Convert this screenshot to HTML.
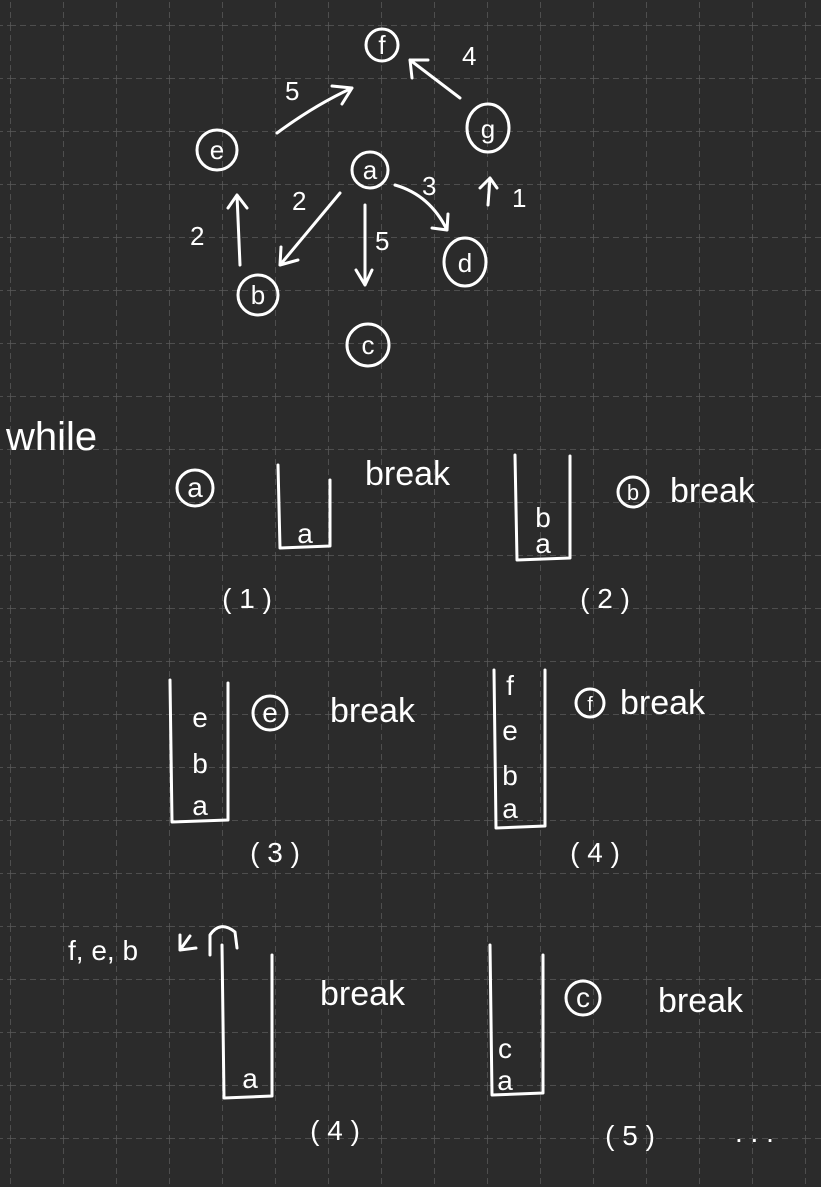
<!DOCTYPE html>
<html><head><meta charset="utf-8"><style>
html,body{margin:0;padding:0;background:#2b2b2b;}
svg{display:block}
text{fill:#fff;font-family:"Liberation Sans",sans-serif;font-weight:normal}
</style></head><body>
<svg width="821" height="1187" viewBox="0 0 821 1187">
<defs>
<pattern id="grid" x="10" y="25" width="53" height="53" patternUnits="userSpaceOnUse">
<path d="M0 0H53M0 0V53" stroke="#5a5a5a" stroke-width="1.5" stroke-dasharray="6 4" fill="none"/>
</pattern>
</defs>
<rect width="821" height="1187" fill="#2b2b2b"/>
<rect width="821" height="1187" fill="url(#grid)"/>
<g stroke="#fff" stroke-width="3" fill="none" stroke-linecap="round" stroke-linejoin="round">
 <g>
  <circle cx="382" cy="45" r="16"/>
  <circle cx="217" cy="150" r="20"/>
  <circle cx="370" cy="170" r="18"/>
  <ellipse cx="488" cy="128" rx="21" ry="24"/>
  <ellipse cx="465" cy="262" rx="21" ry="24"/>
  <circle cx="258" cy="295" r="20"/>
  <circle cx="368" cy="345" r="21"/>
  <path d="M277 133 Q315 105 352 88 M332 86 L352 88 L342 104"/>
  <path d="M460 98 L410 60 M412 78 L410 60 L428 60"/>
  <path d="M340 193 L280 265 M281 247 L280 265 L298 260"/>
  <path d="M240 265 L237 195 M228 208 L237 195 L247 208"/>
  <path d="M365 205 L365 285 M356 270 L365 285 L372 270"/>
  <path d="M395 185 Q430 195 447 230 M432 228 L447 230 L448 214"/>
  <path d="M488 205 L490 178 M480 188 L490 178 L497 188"/>
 </g>
 <g>
  <path d="M278 465 L280 548 L330 546 L330 480"/>
  <path d="M515 455 L517 560 L570 558 L570 456"/>
  <path d="M170 680 L172 822 L228 820 L228 683"/>
  <path d="M494 670 L496 828 L545 826 L545 670"/>
  <path d="M222 945 L224 1098 L272 1096 L272 955"/>
  <path d="M490 945 L492 1095 L543 1093 L543 955"/>
  <path d="M210 955 L210 935 Q220 920 235 932 L237 948"/>
  <path d="M180 950 L190 936 M180 935 L180 950 L196 948"/>
  <circle cx="195" cy="488" r="18"/>
  <circle cx="633" cy="492" r="15"/>
  <circle cx="270" cy="713" r="17"/>
  <circle cx="590" cy="703" r="14"/>
  <circle cx="583" cy="998" r="17"/>
 </g>
</g>
<g font-size="26">
 <text x="382" y="54" text-anchor="middle">f</text>
 <text x="217" y="159" text-anchor="middle">e</text>
 <text x="370" y="179" text-anchor="middle">a</text>
 <text x="488" y="138" text-anchor="middle">g</text>
 <text x="465" y="272" text-anchor="middle">d</text>
 <text x="258" y="304" text-anchor="middle">b</text>
 <text x="368" y="354" text-anchor="middle">c</text>
 <text x="462" y="65">4</text>
 <text x="285" y="100">5</text>
 <text x="292" y="210">2</text>
 <text x="190" y="245">2</text>
 <text x="375" y="250">5</text>
 <text x="422" y="195">3</text>
 <text x="512" y="207">1</text>
</g>
<g font-size="28">
 <text x="6" y="450" font-size="40">while</text>
 <text x="195" y="497" text-anchor="middle">a</text>
 <text x="305" y="543" text-anchor="middle">a</text>
 <text x="365" y="485" font-size="34">break</text>
 <text x="247" y="608" text-anchor="middle">( 1 )</text>
 <text x="543" y="527" text-anchor="middle">b</text>
 <text x="543" y="553" text-anchor="middle">a</text>
 <text x="633" y="500" text-anchor="middle" font-size="22">b</text>
 <text x="670" y="502" font-size="34">break</text>
 <text x="605" y="608" text-anchor="middle">( 2 )</text>
 <text x="200" y="727" text-anchor="middle">e</text>
 <text x="200" y="773" text-anchor="middle">b</text>
 <text x="200" y="815" text-anchor="middle">a</text>
 <text x="270" y="722" text-anchor="middle">e</text>
 <text x="330" y="722" font-size="34">break</text>
 <text x="275" y="862" text-anchor="middle">( 3 )</text>
 <text x="510" y="695" text-anchor="middle">f</text>
 <text x="510" y="740" text-anchor="middle">e</text>
 <text x="510" y="785" text-anchor="middle">b</text>
 <text x="510" y="818" text-anchor="middle">a</text>
 <text x="590" y="711" text-anchor="middle" font-size="20">f</text>
 <text x="620" y="714" font-size="34">break</text>
 <text x="595" y="862" text-anchor="middle">( 4 )</text>
 <text x="68" y="960">f, e, b</text>
 <text x="250" y="1088" text-anchor="middle">a</text>
 <text x="320" y="1005" font-size="34">break</text>
 <text x="335" y="1140" text-anchor="middle">( 4 )</text>
 <text x="505" y="1058" text-anchor="middle">c</text>
 <text x="505" y="1090" text-anchor="middle">a</text>
 <text x="583" y="1007" text-anchor="middle">c</text>
 <text x="658" y="1012" font-size="34">break</text>
 <text x="630" y="1145" text-anchor="middle">( 5 )</text>
 <text x="735" y="1142">. . .</text>
</g>
</svg>
</body></html>
